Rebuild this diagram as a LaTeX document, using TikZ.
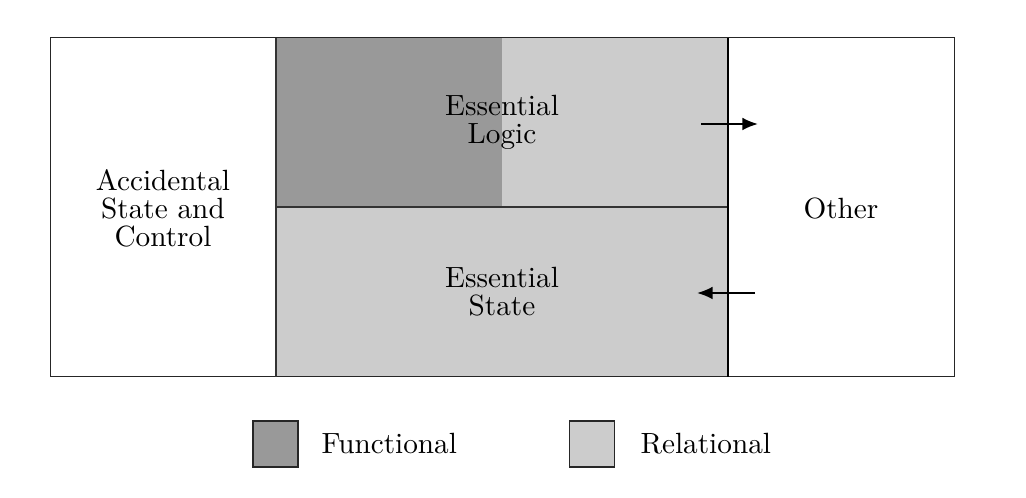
\documentclass[tikz,border=0pt]{standalone}
\usetikzlibrary{arrows.meta}
\definecolor{funcgray}{HTML}{999999}
\definecolor{relgray}{HTML}{CCCCCC}
\definecolor{linegray}{HTML}{333333}
\begin{document}
\begin{tikzpicture}[x=0.352pt,y=-0.352pt,
  outerline/.style={draw=black!85,line width=0.35pt},
  innerline/.style={draw=linegray,line width=0.8pt},
  lbl/.style={align=center,font=\fontsize{10.3}{9.9}\selectfont,inner sep=0pt},
  flow/.style={line width=0.7pt,-{Latex[length=5.5pt,width=4.5pt]}},
  legbox/.style={draw=black!85,line width=0.4pt}]
\useasboundingbox (0,0) rectangle (1026,498);
% fills
\fill[funcgray] (276,38) rectangle (502,207);
\fill[relgray] (502,38) rectangle (728,207);
\fill[relgray] (276,207) rectangle (728,377);
% outer frame
\draw[outerline] (50,38) rectangle (954,377);
% inner lines
\draw[innerline] (276,38) -- (276,377);
\draw[innerline] (276,207) -- (728,207);
\draw[draw=black,line width=0.8pt] (728,38) -- (728,377);
% labels
\node[lbl] (acc) at (163,208) {Accidental\\State and\\Control};
\node[lbl] (other) at (841,209) {Other};
\node[lbl] (elogic) at (502,122) {Essential\\Logic};
\node[lbl] (estate) at (502,292) {Essential\\State};
% arrows
\coordinate (a1s) at (701,124);
\coordinate (a1e) at (758,124);
\coordinate (a2s) at (755,293);
\coordinate (a2e) at (697,293);
\draw[flow] (a1s) -- (a1e);
\draw[flow] (a2s) -- (a2e);
% legend
\node[legbox,fill=funcgray,minimum width=45*0.352pt,minimum height=46*0.352pt,inner sep=0pt] (lf) at (275.5,444) {};
\node[lbl,anchor=west] (lft) at (321,444) {Functional};
\node[legbox,fill=relgray,minimum width=45*0.352pt,minimum height=46*0.352pt,inner sep=0pt] (lr) at (592,444) {};
\node[lbl,anchor=west] (lrt) at (640,444) {Relational};
\end{tikzpicture}
\end{document}
